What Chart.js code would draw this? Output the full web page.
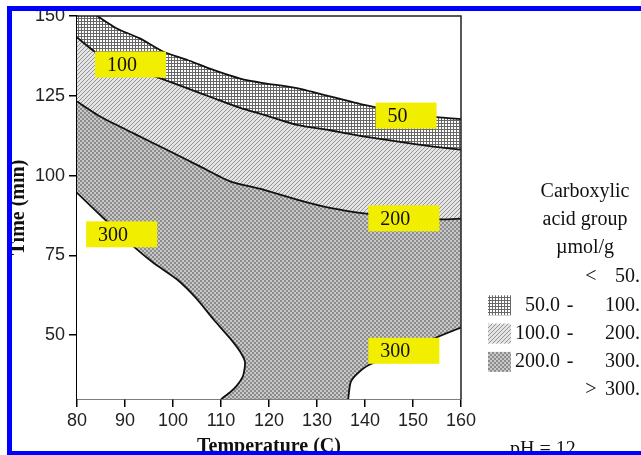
<!DOCTYPE html>
<html>
<head>
<meta charset="utf-8">
<script src="https://cdn.jsdelivr.net/npm/chart.js@4.4.1/dist/chart.umd.min.js"></script>
<style>
  html, body { margin: 0; padding: 0; background: #fff; }
  #chart { display: block; }
</style>
</head>
<body>
<canvas id="chart" width="641" height="455"></canvas>
<script>
const xTicks = [80, 90, 100, 110, 120, 130, 140, 150, 160];
const yTicks = [50, 75, 100, 125, 150];

// contour lines (temperature C, time min)
const temp50 = [80, 84.2, 88.3, 93.1, 98, 102.9, 108.4, 114, 118.8, 125.8, 132.7, 139.6, 147, 154.9, 160];
const time50 = [153.8, 150, 146.1, 143, 138.8, 136.3, 133.1, 130.4, 129, 127.4, 124.8, 122.2, 120, 118.3, 117.7];

const temp100 = [80, 83.75, 90, 97.3, 102.9, 108.4, 114, 118.8, 125.8, 132.7, 139.6, 146.6, 153.5, 160];
const time100 = [143.3, 138.8, 134.6, 130.5, 127.4, 124.3, 121.2, 119.1, 115.9, 114.2, 112.3, 110.7, 109.2, 108.1];

const temp200 = [80, 84.8, 91.7, 98.7, 105.6, 111.9, 118.8, 125.8, 132.7, 140.7, 148, 156.3, 160];
const time200 = [123.2, 118.5, 113.3, 108.1, 102.9, 98.2, 95.6, 92.5, 89.9, 88, 87, 86.3, 86.5];

// the two > 300 islands, closed outside the plot
const tempLeft300 = [78, 80, 86.2, 91.7, 95.9, 100.8, 105, 108.4, 111.9, 114, 115, 114.6, 113.3, 111.9, 110.1, 109.6, 78];
const timeLeft300 = [97.5, 94.6, 85.7, 77.9, 72.7, 67.5, 61.3, 55, 49, 44.8, 41.5, 37.3, 34.2, 32.1, 30, 28, 28];

const tempRight300 = [136.4, 136.5, 137, 138.3, 140.7, 145, 150, 154.9, 160, 162, 162];
const timeRight300 = [28, 30, 35.2, 37.8, 40.6, 43.2, 45.8, 49.3, 52.4, 53.5, 28];

// contour labels: left edge temperature, centre time
const labelText = ['100', '50', '200', '300', '300'];
const labelTemp = [83.75, 142.2, 140.7, 81.9, 140.7];
const labelTime = [134.8, 118.8, 86.6, 81.6, 45.1];

const legendTitle = ['Carboxylic', 'acid group', 'µmol/g'];
const legendSign = ['<', '-', '-', '-', '>'];
const legendLow = ['', '50.0', '100.0', '200.0', ''];
const legendHigh = ['50.', '100.', '200.', '300.', '300.'];

function makePattern(size, draw) {
    const c = document.createElement('canvas');
    c.width = c.height = size;
    const g = c.getContext('2d');
    draw(g);
    return g.createPattern(c, 'repeat');
}

const crossHatch = makePattern(3, g => {
    g.fillStyle = '#fff';
    g.fillRect(0, 0, 3, 3);
    g.fillStyle = '#666';
    g.fillRect(0, 0, 3, 1);
    g.fillRect(0, 0, 1, 3);
});
const diagHatch = makePattern(4, g => {
    g.fillStyle = '#e4e4e4';
    g.fillRect(0, 0, 4, 4);
    g.fillStyle = '#949494';
    for (let i = 0; i < 4; i++) g.fillRect(i, 3 - i, 1, 1);
});
const dotted = makePattern(4, g => {
    g.fillStyle = '#c8c8c8';
    g.fillRect(0, 0, 4, 4);
    g.fillStyle = '#8c8c8c';
    g.fillRect(0, 0, 2, 2);
    g.fillRect(2, 2, 2, 2);
});
const legendSwatch = [null, crossHatch, diagHatch, dotted, null];

const pts = (xs, ys) => xs.map((x, i) => ({ x, y: ys[i] }));

function contour(xs, ys, fill, bg, order) {
    return {
        data: pts(xs, ys),
        fill: fill,
        backgroundColor: bg,
        borderColor: '#111',
        borderWidth: 1.8,
        pointRadius: 0,
        tension: 0.2,
        order: order
    };
}

const labelPlugin = {
    id: 'contourLabels',
    afterDatasetsDraw(chart) {
        const { ctx, scales: { x, y } } = chart;
        ctx.save();
        ctx.font = '20px "Liberation Serif"';
        ctx.textBaseline = 'middle';
        labelText.forEach((txt, i) => {
            const left = x.getPixelForValue(labelTemp[i]);
            const mid = y.getPixelForValue(labelTime[i]);
            const w = ctx.measureText(txt).width + 41;
            ctx.fillStyle = '#f2ee00';
            ctx.fillRect(left, mid - 13, w, 26);
            ctx.fillStyle = '#111';
            ctx.fillText(txt, left + 12, mid + 1);
        });
        ctx.restore();
    }
};

const decorPlugin = {
    id: 'decor',
    afterDraw(chart) {
        const { ctx, chartArea: a } = chart;
        ctx.save();

        // frame top and right
        ctx.strokeStyle = '#222';
        ctx.lineWidth = 1.5;
        ctx.beginPath();
        ctx.moveTo(a.left, a.top);
        ctx.lineTo(a.right, a.top);
        ctx.lineTo(a.right, a.bottom);
        ctx.stroke();

        // axis titles
        ctx.fillStyle = '#111';
        ctx.font = 'bold 20px "Liberation Serif"';
        ctx.textAlign = 'center';
        ctx.textBaseline = 'alphabetic';
        ctx.fillText('Temperature (C)', (a.left + a.right) / 2, 452);
        ctx.save();
        ctx.translate(24, (a.top + a.bottom) / 2);
        ctx.rotate(-Math.PI / 2);
        ctx.fillText('Time (min)', 0, 0);
        ctx.restore();

        // legend
        ctx.font = '20px "Liberation Serif"';
        ctx.textBaseline = 'middle';
        legendTitle.forEach((t, i) => ctx.fillText(t, 585, 192 + i * 28));
        legendHigh.forEach((hi, i) => {
            const yy = 277 + i * 28.3;
            if (legendSwatch[i]) {
                ctx.fillStyle = legendSwatch[i];
                ctx.fillRect(488, yy - 10, 23, 20);
                ctx.fillStyle = '#111';
            }
            ctx.textAlign = 'right';
            if (legendLow[i]) ctx.fillText(legendLow[i], 560, yy);
            ctx.fillText(hi, 640, yy);
            ctx.textAlign = 'center';
            ctx.fillText(legendSign[i], legendSign[i] === '-' ? 570 : 591, yy);
        });
        ctx.textBaseline = 'alphabetic';
        ctx.textAlign = 'left';
        ctx.fillText('pH = 12', 510, 455);

        // blue border
        ctx.strokeStyle = '#0000ff';
        ctx.lineWidth = 5;
        ctx.strokeRect(9.5, 8.5, 700, 445);
        ctx.restore();
    }
};

const axisCommon = {
    type: 'linear',
    z: 1,
    grid: { display: true, drawOnChartArea: false, drawTicks: true, tickLength: 8, color: '#000', lineWidth: 1.5 },
    border: { display: true, color: '#000', width: 1.5 },
    ticks: { color: '#222', font: { family: 'Liberation Sans', size: 18 } }
};

new Chart(document.getElementById('chart'), {
    type: 'line',
    data: {
        datasets: [
            contour(temp50, time50, 'start', crossHatch, 5),
            contour(temp100, time100, 'start', diagHatch, 4),
            contour(temp200, time200, 'start', dotted, 3),
            contour(tempLeft300, timeLeft300, 'shape', '#fff', 2),
            contour(tempRight300, timeRight300, 'shape', '#fff', 1)
        ]
    },
    options: {
        responsive: false,
        animation: false,
        layout: { autoPadding: false, padding: { left: 0, top: 16, right: 180, bottom: 0 } },
        scales: {
            x: {
                ...axisCommon,
                min: 80,
                max: 160,
                ticks: { ...axisCommon.ticks, padding: 3 },
                afterBuildTicks: s => { s.ticks = xTicks.map(v => ({ value: v })); },
                afterFit: s => { s.height = 56; }
            },
            y: {
                ...axisCommon,
                min: 30,
                max: 150,
                ticks: { ...axisCommon.ticks, padding: 4 },
                afterBuildTicks: s => { s.ticks = yTicks.map(v => ({ value: v })); },
                afterFit: s => { s.width = 77; }
            }
        },
        plugins: { legend: { display: false }, tooltip: { enabled: false } }
    },
    plugins: [labelPlugin, decorPlugin]
});
</script>
</body>
</html>
